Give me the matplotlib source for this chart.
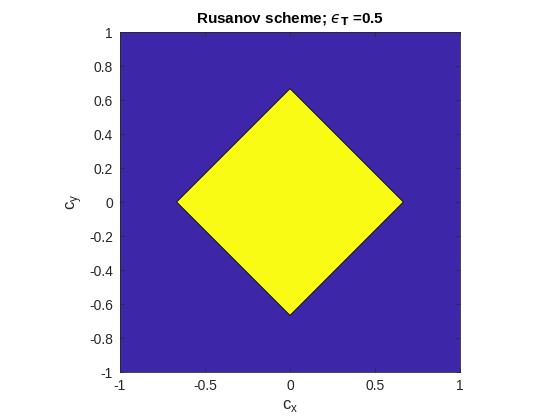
import matplotlib
matplotlib.use("Agg")
import matplotlib.pyplot as plt

# stability region boundary (diamond) for the Rusanov scheme, eps_T = 0.5
region_cx = [-0.667, 0.0, 0.667, 0.0, -0.667]
region_cy = [0.0, 0.667, 0.0, -0.667, 0.0]

# plotting window
domain_cx = [-1, 1, 1, -1, -1]
domain_cy = [-1, -1, 1, 1, -1]

xticks = [-1, -0.5, 0, 0.5, 1]
xticklabels = ["-1", "-0.5", "0", "0.5", "1"]
yticks = [-1, -0.8, -0.6, -0.4, -0.2, 0, 0.2, 0.4, 0.6, 0.8, 1]
yticklabels = ["-1", "-0.8", "-0.6", "-0.4", "-0.2", "0", "0.2", "0.4", "0.6", "0.8", "1"]

plt.rcParams['font.family'] = ['Liberation Sans', 'DejaVu Sans']
plt.rcParams['mathtext.fontset'] = 'dejavusans'

fig = plt.figure(figsize=(5.6, 4.2), dpi=100)
ax = fig.add_axes([120 / 560, 48 / 420, 340 / 560, 340 / 420])

ax.fill(domain_cx, domain_cy, color='#3E26A8', linewidth=0)
ax.fill(region_cx, region_cy, facecolor='#F9FB15', edgecolor='black', linewidth=0.6)

ax.set_xlim(-1, 1)
ax.set_ylim(-1, 1)
ax.set_xticks(xticks)
ax.set_xticklabels(xticklabels)
ax.set_yticks(yticks)
ax.set_yticklabels(yticklabels)
ax.tick_params(direction='in', length=3, width=0.5, colors='#262626',
               labelsize=10, top=True, right=True, pad=5)
for s in ax.spines.values():
    s.set_color('#262626')
    s.set_linewidth(0.6)

ax.set_title("Rusanov scheme; $\u03f5_{\\mathbf{T}}$ =0.5", fontsize=11,
             fontweight='bold', color='black', pad=6)
ax.set_xlabel(r"c$_\mathregular{x}$", fontsize=12, color='#262626')
ax.set_ylabel(r"c$_\mathregular{y}$", fontsize=12, color='#262626')

plt.savefig("out.png", dpi=100)
plt.close()
